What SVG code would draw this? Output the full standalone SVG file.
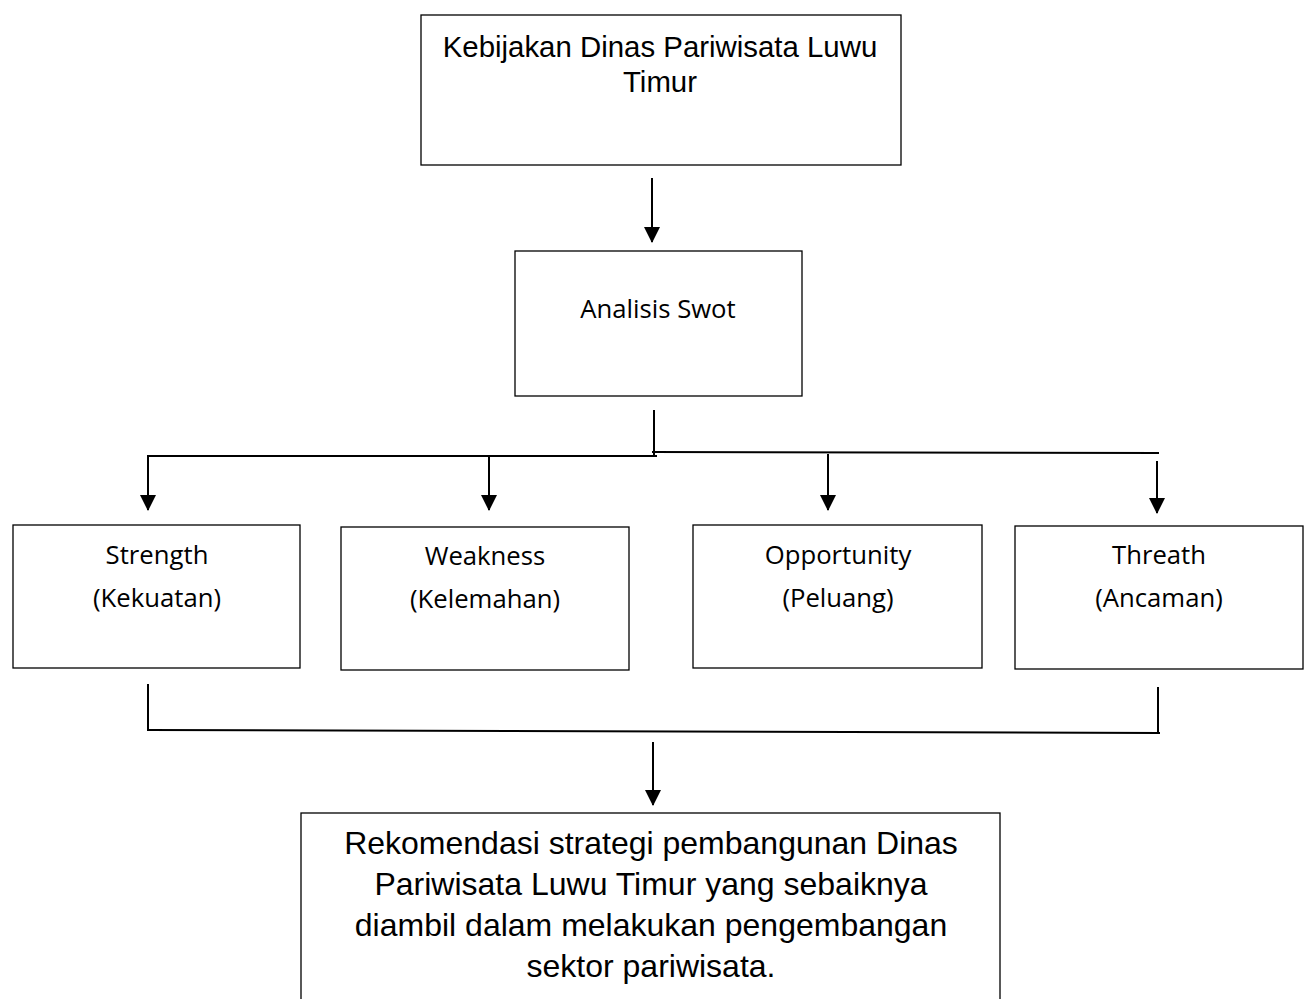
<svg xmlns="http://www.w3.org/2000/svg" width="1306" height="999" viewBox="0 0 1306 999">
<style>
.box{fill:#fff;stroke:#000;stroke-width:1.3}
.ar{font-family:"Liberation Sans",Arial,sans-serif;fill:#000;text-anchor:middle}
.cal{font-family:"Open Sans","Liberation Sans",sans-serif;fill:#000;text-anchor:middle;font-size:25.7px}
.ln{stroke:#000;stroke-width:2;fill:none}
</style>
<defs>
<marker id="ahs" markerWidth="16" markerHeight="16" refX="15" refY="8" orient="auto" markerUnits="userSpaceOnUse" viewBox="0 0 16 16">
<path d="M0,0 L16,8 L0,16 z" fill="#000"/>
</marker>
</defs>
<rect width="1306" height="999" fill="#fff"/>
<g id="connectors">
<line class="ln" x1="652" y1="178" x2="652" y2="242" marker-end="url(#ahs)"/>
<line class="ln" x1="654" y1="410" x2="654" y2="457"/>
<line class="ln" x1="147" y1="456" x2="657" y2="456"/>
<line class="ln" x1="652" y1="452" x2="1159" y2="453"/>
<line class="ln" x1="148" y1="456" x2="148" y2="510" marker-end="url(#ahs)"/>
<line class="ln" x1="489" y1="456" x2="489" y2="510" marker-end="url(#ahs)"/>
<line class="ln" x1="828" y1="454" x2="828" y2="510" marker-end="url(#ahs)"/>
<line class="ln" x1="1157" y1="461" x2="1157" y2="513" marker-end="url(#ahs)"/>
<line class="ln" x1="148" y1="684" x2="148" y2="731"/>
<line class="ln" x1="1158" y1="687" x2="1158" y2="733"/>
<line class="ln" x1="148" y1="730" x2="1160" y2="733"/>
<line class="ln" x1="653" y1="742" x2="653" y2="805" marker-end="url(#ahs)"/>
</g>
<g id="n-kebijakan">
<rect class="box" x="421" y="15" width="480" height="150"/>
<text class="ar" x="660" y="57" font-size="29.4">Kebijakan Dinas Pariwisata Luwu</text>
<text class="ar" x="660" y="92" font-size="29.4">Timur</text>
</g>
<g id="n-swot">
<rect class="box" x="515" y="251" width="287" height="145"/>
<text class="cal" x="658" y="318">Analisis Swot</text>
</g>
<g id="n-strength">
<rect class="box" x="13" y="525" width="287" height="143"/>
<text class="cal" x="157" y="564">Strength</text>
<text class="cal" x="157" y="607">(Kekuatan)</text>
</g>
<g id="n-weakness">
<rect class="box" x="341" y="527" width="288" height="143"/>
<text class="cal" x="485" y="565">Weakness</text>
<text class="cal" x="485" y="608">(Kelemahan)</text>
</g>
<g id="n-opportunity">
<rect class="box" x="693" y="525" width="289" height="143"/>
<text class="cal" x="838" y="564">Opportunity</text>
<text class="cal" x="838" y="607">(Peluang)</text>
</g>
<g id="n-threat">
<rect class="box" x="1015" y="526" width="288" height="143"/>
<text class="cal" x="1159" y="564">Threath</text>
<text class="cal" x="1159" y="607">(Ancaman)</text>
</g>
<g id="n-rekomendasi">
<rect class="box" x="301" y="813" width="699" height="200"/>
<text class="ar" x="651" y="854" font-size="32">Rekomendasi strategi pembangunan Dinas</text>
<text class="ar" x="651" y="895" font-size="32">Pariwisata Luwu Timur yang sebaiknya</text>
<text class="ar" x="651" y="936" font-size="32">diambil dalam melakukan pengembangan</text>
<text class="ar" x="651" y="977" font-size="32">sektor pariwisata.</text>
</g>
</svg>
